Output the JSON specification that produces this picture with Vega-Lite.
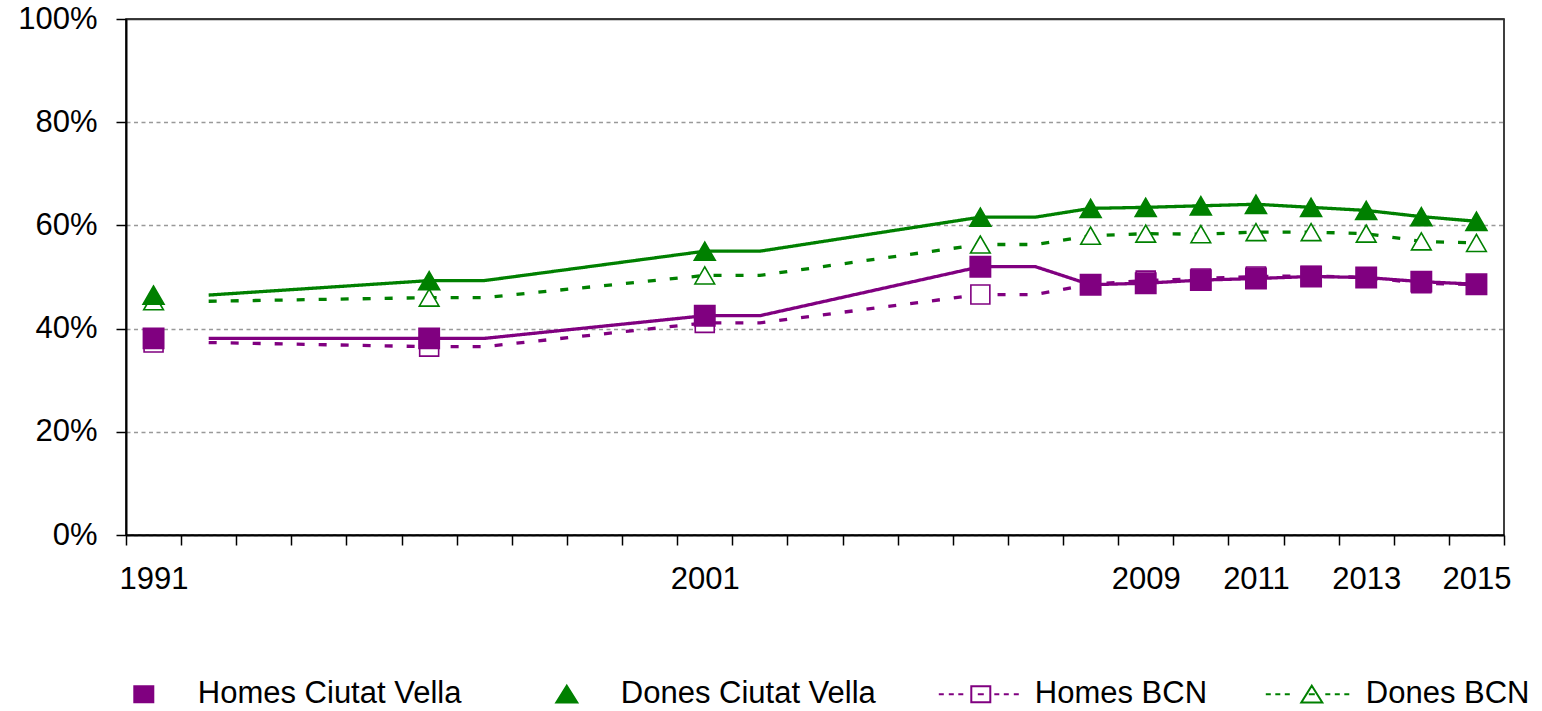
{
  "$schema": "https://vega.github.io/schema/vega-lite/v6.json",
  "width": 1378,
  "height": 516,
  "autosize": {"type": "none"},
  "padding": {"left": 126, "top": 19, "right": 38, "bottom": 176},
  "background": "white",
  "config": {"view": {"stroke": "#000", "strokeWidth": 1.5}, "font": "Liberation Sans"},
  "datasets": {
    "lines": [
      {"serie": "Homes Ciutat Vella", "year": 1992, "value": 38.1},
      {"serie": "Homes Ciutat Vella", "year": 1996, "value": 38.1},
      {"serie": "Homes Ciutat Vella", "year": 1997, "value": 38.1},
      {"serie": "Homes Ciutat Vella", "year": 2001, "value": 42.5},
      {"serie": "Homes Ciutat Vella", "year": 2002, "value": 42.5},
      {"serie": "Homes Ciutat Vella", "year": 2006, "value": 52.0},
      {"serie": "Homes Ciutat Vella", "year": 2007, "value": 52.0},
      {"serie": "Homes Ciutat Vella", "year": 2008, "value": 48.5},
      {"serie": "Homes Ciutat Vella", "year": 2009, "value": 48.8},
      {"serie": "Homes Ciutat Vella", "year": 2010, "value": 49.4},
      {"serie": "Homes Ciutat Vella", "year": 2011, "value": 49.7},
      {"serie": "Homes Ciutat Vella", "year": 2012, "value": 50.1},
      {"serie": "Homes Ciutat Vella", "year": 2013, "value": 49.9},
      {"serie": "Homes Ciutat Vella", "year": 2014, "value": 49.1},
      {"serie": "Homes Ciutat Vella", "year": 2015, "value": 48.6},
      {"serie": "Dones Ciutat Vella", "year": 1992, "value": 46.5},
      {"serie": "Dones Ciutat Vella", "year": 1996, "value": 49.3},
      {"serie": "Dones Ciutat Vella", "year": 1997, "value": 49.3},
      {"serie": "Dones Ciutat Vella", "year": 2001, "value": 55.0},
      {"serie": "Dones Ciutat Vella", "year": 2002, "value": 55.0},
      {"serie": "Dones Ciutat Vella", "year": 2006, "value": 61.6},
      {"serie": "Dones Ciutat Vella", "year": 2007, "value": 61.6},
      {"serie": "Dones Ciutat Vella", "year": 2008, "value": 63.3},
      {"serie": "Dones Ciutat Vella", "year": 2009, "value": 63.5},
      {"serie": "Dones Ciutat Vella", "year": 2010, "value": 63.8},
      {"serie": "Dones Ciutat Vella", "year": 2011, "value": 64.1},
      {"serie": "Dones Ciutat Vella", "year": 2012, "value": 63.5},
      {"serie": "Dones Ciutat Vella", "year": 2013, "value": 62.9},
      {"serie": "Dones Ciutat Vella", "year": 2014, "value": 61.7},
      {"serie": "Dones Ciutat Vella", "year": 2015, "value": 60.8},
      {"serie": "Homes BCN", "year": 1992, "value": 37.3},
      {"serie": "Homes BCN", "year": 1996, "value": 36.5},
      {"serie": "Homes BCN", "year": 1997, "value": 36.5},
      {"serie": "Homes BCN", "year": 2001, "value": 41.1},
      {"serie": "Homes BCN", "year": 2002, "value": 41.1},
      {"serie": "Homes BCN", "year": 2006, "value": 46.6},
      {"serie": "Homes BCN", "year": 2007, "value": 46.6},
      {"serie": "Homes BCN", "year": 2008, "value": 48.6},
      {"serie": "Homes BCN", "year": 2009, "value": 49.3},
      {"serie": "Homes BCN", "year": 2010, "value": 49.7},
      {"serie": "Homes BCN", "year": 2011, "value": 50.1},
      {"serie": "Homes BCN", "year": 2012, "value": 50.2},
      {"serie": "Homes BCN", "year": 2013, "value": 49.9},
      {"serie": "Homes BCN", "year": 2014, "value": 48.8},
      {"serie": "Homes BCN", "year": 2015, "value": 48.5},
      {"serie": "Dones BCN", "year": 1992, "value": 45.3},
      {"serie": "Dones BCN", "year": 1996, "value": 46.0},
      {"serie": "Dones BCN", "year": 1997, "value": 46.0},
      {"serie": "Dones BCN", "year": 2001, "value": 50.3},
      {"serie": "Dones BCN", "year": 2002, "value": 50.3},
      {"serie": "Dones BCN", "year": 2006, "value": 56.3},
      {"serie": "Dones BCN", "year": 2007, "value": 56.3},
      {"serie": "Dones BCN", "year": 2008, "value": 58.0},
      {"serie": "Dones BCN", "year": 2009, "value": 58.4},
      {"serie": "Dones BCN", "year": 2010, "value": 58.3},
      {"serie": "Dones BCN", "year": 2011, "value": 58.7},
      {"serie": "Dones BCN", "year": 2012, "value": 58.7},
      {"serie": "Dones BCN", "year": 2013, "value": 58.4},
      {"serie": "Dones BCN", "year": 2014, "value": 56.9},
      {"serie": "Dones BCN", "year": 2015, "value": 56.6}
    ],
    "pts": [
      {"serie": "Homes BCN", "year": 1991, "value": 37.3},
      {"serie": "Homes BCN", "year": 1996, "value": 36.5},
      {"serie": "Homes BCN", "year": 2001, "value": 41.1},
      {"serie": "Homes BCN", "year": 2006, "value": 46.6},
      {"serie": "Homes BCN", "year": 2008, "value": 48.6},
      {"serie": "Homes BCN", "year": 2009, "value": 49.3},
      {"serie": "Homes BCN", "year": 2010, "value": 49.7},
      {"serie": "Homes BCN", "year": 2011, "value": 50.1},
      {"serie": "Homes BCN", "year": 2012, "value": 50.2},
      {"serie": "Homes BCN", "year": 2013, "value": 49.9},
      {"serie": "Homes BCN", "year": 2014, "value": 48.8},
      {"serie": "Homes BCN", "year": 2015, "value": 48.5},
      {"serie": "Dones BCN", "year": 1991, "value": 45.3},
      {"serie": "Dones BCN", "year": 1996, "value": 46.0},
      {"serie": "Dones BCN", "year": 2001, "value": 50.3},
      {"serie": "Dones BCN", "year": 2006, "value": 56.3},
      {"serie": "Dones BCN", "year": 2008, "value": 58.0},
      {"serie": "Dones BCN", "year": 2009, "value": 58.4},
      {"serie": "Dones BCN", "year": 2010, "value": 58.3},
      {"serie": "Dones BCN", "year": 2011, "value": 58.7},
      {"serie": "Dones BCN", "year": 2012, "value": 58.7},
      {"serie": "Dones BCN", "year": 2013, "value": 58.4},
      {"serie": "Dones BCN", "year": 2014, "value": 56.9},
      {"serie": "Dones BCN", "year": 2015, "value": 56.6},
      {"serie": "Homes Ciutat Vella", "year": 1991, "value": 38.1},
      {"serie": "Homes Ciutat Vella", "year": 1996, "value": 38.1},
      {"serie": "Homes Ciutat Vella", "year": 2001, "value": 42.5},
      {"serie": "Homes Ciutat Vella", "year": 2006, "value": 52.0},
      {"serie": "Homes Ciutat Vella", "year": 2008, "value": 48.5},
      {"serie": "Homes Ciutat Vella", "year": 2009, "value": 48.8},
      {"serie": "Homes Ciutat Vella", "year": 2010, "value": 49.4},
      {"serie": "Homes Ciutat Vella", "year": 2011, "value": 49.7},
      {"serie": "Homes Ciutat Vella", "year": 2012, "value": 50.1},
      {"serie": "Homes Ciutat Vella", "year": 2013, "value": 49.9},
      {"serie": "Homes Ciutat Vella", "year": 2014, "value": 49.1},
      {"serie": "Homes Ciutat Vella", "year": 2015, "value": 48.6},
      {"serie": "Dones Ciutat Vella", "year": 1991, "value": 46.5},
      {"serie": "Dones Ciutat Vella", "year": 1996, "value": 49.3},
      {"serie": "Dones Ciutat Vella", "year": 2001, "value": 55.0},
      {"serie": "Dones Ciutat Vella", "year": 2006, "value": 61.6},
      {"serie": "Dones Ciutat Vella", "year": 2008, "value": 63.3},
      {"serie": "Dones Ciutat Vella", "year": 2009, "value": 63.5},
      {"serie": "Dones Ciutat Vella", "year": 2010, "value": 63.8},
      {"serie": "Dones Ciutat Vella", "year": 2011, "value": 64.1},
      {"serie": "Dones Ciutat Vella", "year": 2012, "value": 63.5},
      {"serie": "Dones Ciutat Vella", "year": 2013, "value": 62.9},
      {"serie": "Dones Ciutat Vella", "year": 2014, "value": 61.7},
      {"serie": "Dones Ciutat Vella", "year": 2015, "value": 60.8}
    ]
  },
  "resolve": {"scale": {"shape": "independent", "fill": "independent", "stroke": "independent", "size": "independent"}},
  "layer": [
    {
      "data": {"name": "lines"},
      "mark": {"type": "line", "strokeWidth": 3.3},
      "encoding": {
        "x": {
          "field": "year", "type": "quantitative",
          "scale": {"domain": [1990.5, 2015.5], "nice": false, "zero": false},
          "axis": {
            "values": [1990.5, 1991.5, 1992.5, 1993.5, 1994.5, 1995.5, 1996.5, 1997.5, 1998.5, 1999.5, 2000.5, 2001.5, 2002.5, 2003.5, 2004.5, 2005.5, 2006.5, 2007.5, 2008.5, 2009.5, 2010.5, 2011.5, 2012.5, 2013.5, 2014.5, 2015.5],
            "labelExpr": "indexof([1990.5, 2000.5, 2008.5, 2010.5, 2012.5, 2014.5], datum.value) >= 0 ? toString(datum.value + 0.5) : ''",
            "labelOffset": 27.56,
            "labelAngle": 0,
            "title": null,
            "grid": false,
            "tickSize": 10,
            "tickColor": "#000",
            "tickWidth": 1.5,
            "domainColor": "#000",
            "domainWidth": 2,
            "labelFont": "Liberation Sans",
            "labelFontSize": 31,
            "labelColor": "#000",
            "labelPadding": 19,
            "labelOverlap": false,
            "labelBound": false,
            "labelFlush": false
          }
        },
        "y": {
          "field": "value", "type": "quantitative",
          "scale": {"domain": [0, 100], "nice": false},
          "axis": {
            "values": [0, 20, 40, 60, 80, 100],
            "labelExpr": "datum.value + '%'",
            "title": null,
            "grid": true,
            "gridColor": {"condition": {"test": "datum.value >= 100", "value": "#333"}, "value": "#999"},
            "gridDash": {"condition": {"test": "datum.value >= 100", "value": []}, "value": [4, 3.5]},
            "gridWidth": 1.5,
            "tickSize": 10,
            "tickColor": "#000",
            "tickWidth": 1.5,
            "domainColor": "#000",
            "domainWidth": 2,
            "labelFont": "Liberation Sans",
            "labelFontSize": 31,
            "labelColor": "#000",
            "labelPadding": 19
          }
        },
        "color": {
          "field": "serie", "type": "nominal",
          "scale": {"domain": ["Homes BCN", "Dones BCN", "Homes Ciutat Vella", "Dones Ciutat Vella"], "range": ["#800080", "#008000", "#800080", "#008000"]},
          "legend": null
        },
        "strokeDash": {
          "field": "serie", "type": "nominal",
          "scale": {"domain": ["Homes BCN", "Dones BCN", "Homes Ciutat Vella", "Dones Ciutat Vella"], "range": [[8, 14], [8, 14], [1, 0], [1, 0]]},
          "legend": null
        }
      }
    },
    {
      "data": {"name": "pts"},
      "mark": {"type": "point", "filled": true, "opacity": 1, "strokeWidth": 1.6},
      "encoding": {
        "x": {"field": "year", "type": "quantitative"},
        "y": {"field": "value", "type": "quantitative"},
        "shape": {
          "field": "serie", "type": "nominal",
          "scale": {"domain": ["Homes BCN", "Dones BCN", "Homes Ciutat Vella", "Dones Ciutat Vella"], "range": ["square", "triangle-up", "square", "triangle-up"]},
          "legend": null
        },
        "size": {
          "field": "serie", "type": "nominal",
          "scale": {"domain": ["Homes BCN", "Dones BCN", "Homes Ciutat Vella", "Dones Ciutat Vella"], "range": [360, 440, 360, 440]},
          "legend": null
        },
        "fill": {
          "field": "serie", "type": "nominal",
          "scale": {"domain": ["Homes BCN", "Dones BCN", "Homes Ciutat Vella", "Dones Ciutat Vella"], "range": ["#ffffff", "#ffffff", "#800080", "#008000"]},
          "legend": null
        },
        "stroke": {
          "field": "serie", "type": "nominal",
          "scale": {"domain": ["Homes BCN", "Dones BCN", "Homes Ciutat Vella", "Dones Ciutat Vella"], "range": ["#800080", "#008000", "#800080", "#008000"]},
          "legend": null
        }
      }
    },
    {
      "data": {"name": "pts"},
      "transform": [{"filter": "false"}],
      "mark": {"type": "point", "filled": true, "opacity": 1, "strokeWidth": 2},
      "encoding": {
        "x": {"field": "year", "type": "quantitative"},
        "y": {"field": "value", "type": "quantitative"},
        "shape": {
          "field": "serie", "type": "nominal",
          "scale": {
            "domain": ["Homes Ciutat Vella", "Dones Ciutat Vella", "Homes BCN", "Dones BCN"],
            "range": [
              "M-4.6,0M-0.95,-0.8L0.95,-0.8L0.95,0.8L-0.95,0.8Z",
              "M-4.6,0M0,-0.85L1.05,0.82L-1.05,0.82Z",
              "M-4.6,0M-4.2,0L-3.7,0M-3.2,0L-2.7,0M-2.25,0L-1.75,0M-0.3,0L0.3,0M1.35,0L1.85,0M2.3,0L2.8,0M3.3,0L3.8,0M-0.95,-0.8L0.95,-0.8L0.95,0.8L-0.95,0.8Z",
              "M-4.6,0L-4.1,0M-3.65,0L-3.15,0M-2.7,0L-2.2,0M-0.3,0L0.3,0M1.35,0L1.85,0M2.3,0L2.8,0M3.25,0L3.75,0M0,-0.85L1.05,0.82L-1.05,0.82Z"
            ]
          },
          "legend": {
            "title": null,
            "orient": "none",
            "legendX": 2.3,
            "legendY": 659.5,
            "direction": "horizontal",
            "columns": 4,
            "gridAlign": "each",
            "columnPadding": 54,
            "padding": 0,
            "labelFont": "Liberation Sans",
            "labelFontSize": 31,
            "labelColor": "#000",
            "labelLimit": 600,
            "labelOffset": 38.5,
            "symbolSize": 400,
            "symbolStrokeWidth": 2,
            "symbolOffset": 0
          }
        },
        "fill": {
          "field": "serie", "type": "nominal",
          "scale": {"domain": ["Homes Ciutat Vella", "Dones Ciutat Vella", "Homes BCN", "Dones BCN"], "range": ["#800080", "#008000", "#ffffff", "#ffffff"]}
        },
        "stroke": {
          "field": "serie", "type": "nominal",
          "scale": {"domain": ["Homes Ciutat Vella", "Dones Ciutat Vella", "Homes BCN", "Dones BCN"], "range": ["#800080", "#008000", "#800080", "#008000"]}
        }
      }
    }
  ]
}
